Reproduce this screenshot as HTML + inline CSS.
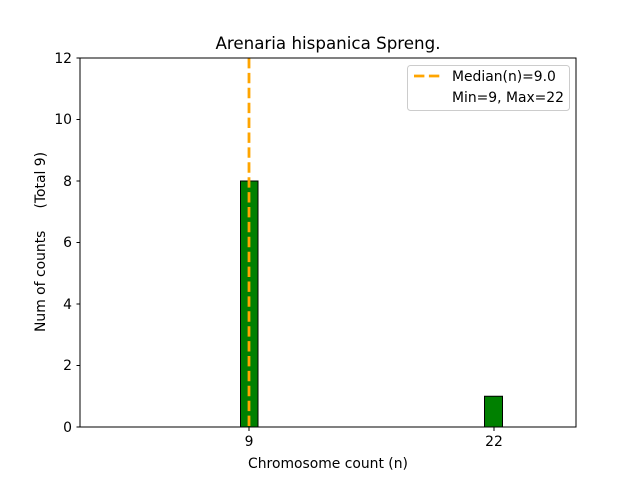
<!DOCTYPE html>
<html><head><style>body{margin:0;background:#fff}svg{display:block}text{font-family:"DejaVu Sans","Liberation Sans",sans-serif;fill:#000;white-space:pre}</style></head>
<body>
<svg width="640" height="480" viewBox="0 0 640 480" xmlns="http://www.w3.org/2000/svg">
<rect width="640" height="480" fill="#fff"/>
<rect x="240.5" y="181" width="17.5" height="246" fill="green" stroke="#000" stroke-width="1"/>
<rect x="484.5" y="396.25" width="18" height="30.75" fill="green" stroke="#000" stroke-width="1"/>
<line x1="249" y1="58" x2="249" y2="427" stroke="orange" stroke-width="2.8" stroke-dasharray="10.4,4.5"/>
<rect x="80" y="58" width="496" height="369" fill="none" stroke="#000" stroke-width="1"/>
<g stroke="#000" stroke-width="1">
<line x1="76.5" y1="427" x2="80" y2="427"/><line x1="76.5" y1="365.5" x2="80" y2="365.5"/>
<line x1="76.5" y1="304" x2="80" y2="304"/><line x1="76.5" y1="242.5" x2="80" y2="242.5"/>
<line x1="76.5" y1="181" x2="80" y2="181"/><line x1="76.5" y1="119.5" x2="80" y2="119.5"/>
<line x1="76.5" y1="58" x2="80" y2="58"/>
<line x1="249" y1="427" x2="249" y2="431"/><line x1="494" y1="427" x2="494" y2="431"/>
</g>
<g font-size="13.9" text-anchor="end">
<text x="72" y="432">0</text><text x="72" y="370">2</text><text x="72" y="309">4</text>
<text x="72" y="247">6</text><text x="72" y="186">8</text><text x="72" y="124">10</text><text x="72" y="63">12</text>
</g>
<g font-size="13.9" text-anchor="middle">
<text x="249" y="446">9</text><text x="494" y="446">22</text>
<text x="328" y="468">Chromosome count (n)</text>
</g>
<text x="45" y="242" font-size="13.9" text-anchor="middle" transform="rotate(-90 45 242)" xml:space="preserve">Num of counts     (Total 9)</text>
<text x="328" y="49" font-size="16.7" text-anchor="middle">Arenaria hispanica Spreng.</text>
<rect x="407.5" y="65.5" width="162" height="45" rx="3" fill="#fff" fill-opacity="0.8" stroke="#ccc"/>
<line x1="414" y1="76" x2="442" y2="76" stroke="orange" stroke-width="2.8" stroke-dasharray="10.4,4.5"/>
<text x="452" y="81" font-size="13.9">Median(n)=9.0</text>
<text x="452" y="102" font-size="13.9">Min=9, Max=22</text>
</svg>
</body></html>
